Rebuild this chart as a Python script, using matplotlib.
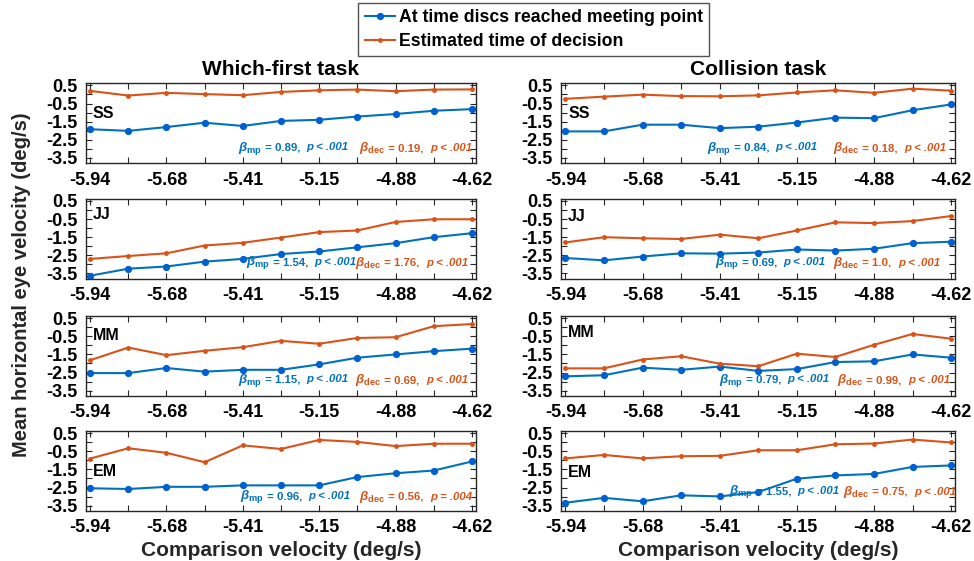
import matplotlib.pyplot as plt
from matplotlib.offsetbox import TextArea, HPacker, AnnotationBbox

plt.rcParams['font.family'] = ['Liberation Sans', 'DejaVu Sans']
plt.rcParams['font.weight'] = 'bold'
plt.rcParams['mathtext.fontset'] = 'custom'
plt.rcParams['mathtext.it'] = 'Liberation Sans:italic'
plt.rcParams['mathtext.bf'] = 'Liberation Sans:bold'
plt.rcParams['mathtext.rm'] = 'Liberation Sans:bold'

# comparison velocities (deg/s)
comp_vel = [-5.94, -5.808, -5.676, -5.544, -5.412, -5.28, -5.148, -5.016, -4.884, -4.752, -4.62]
xtick_labels = ['-5.94', '', '-5.68', '', '-5.41', '', '-5.15', '', '-4.88', '', '-4.62']
observers = ['SS', 'JJ', 'MM', 'EM']

# Which-first task: eye velocity at meeting point (mp) and at decision (dec)
wf_ss_mp = [-1.92, -2.01, -1.80, -1.56, -1.74, -1.46, -1.40, -1.22, -1.08, -0.90, -0.81]
wf_ss_dec = [0.20, -0.06, 0.09, 0.02, -0.04, 0.14, 0.23, 0.27, 0.18, 0.27, 0.28]
wf_jj_mp = [-3.63, -3.24, -3.12, -2.85, -2.70, -2.43, -2.29, -2.06, -1.83, -1.50, -1.28]
wf_jj_dec = [-2.70, -2.54, -2.39, -1.96, -1.81, -1.52, -1.22, -1.13, -0.66, -0.51, -0.51]
wf_mm_mp = [-2.53, -2.53, -2.25, -2.45, -2.35, -2.35, -2.05, -1.68, -1.50, -1.32, -1.18]
wf_mm_dec = [-1.82, -1.12, -1.54, -1.30, -1.10, -0.75, -0.91, -0.59, -0.55, 0.06, 0.18]
wf_em_mp = [-2.54, -2.58, -2.46, -2.46, -2.38, -2.38, -2.38, -1.92, -1.71, -1.56, -1.06]
wf_em_dec = [-0.90, -0.33, -0.58, -1.10, -0.17, -0.37, 0.13, 0.02, -0.21, -0.08, -0.08]

# Collision task
col_ss_mp = [-2.04, -2.04, -1.67, -1.67, -1.86, -1.78, -1.55, -1.28, -1.31, -0.87, -0.55]
col_ss_dec = [-0.24, -0.12, -0.01, -0.09, -0.10, -0.05, 0.11, 0.23, 0.09, 0.32, 0.21]
col_jj_mp = [-2.65, -2.78, -2.57, -2.39, -2.41, -2.35, -2.18, -2.24, -2.14, -1.83, -1.75]
col_jj_dec = [-1.79, -1.50, -1.56, -1.60, -1.36, -1.56, -1.13, -0.68, -0.72, -0.61, -0.33]
col_mm_mp = [-2.71, -2.65, -2.23, -2.35, -2.17, -2.41, -2.31, -1.92, -1.88, -1.50, -1.68]
col_mm_dec = [-2.27, -2.27, -1.78, -1.60, -2.01, -2.15, -1.46, -1.64, -0.97, -0.37, -0.63]
col_em_mp = [-3.34, -3.07, -3.26, -2.93, -2.99, -2.75, -2.01, -1.83, -1.75, -1.36, -1.28]
col_em_dec = [-0.89, -0.70, -0.89, -0.77, -0.75, -0.44, -0.44, -0.11, -0.07, 0.15, -0.01]

# regression slopes and p values
wf_beta_mp = ['0.89', '1.54', '1.15', '0.96']
wf_p_mp = ['< .001', '< .001', '< .001', '< .001']
wf_beta_dec = ['0.19', '1.76', '0.69', '0.56']
wf_p_dec = ['< .001', '< .001', '< .001', '= .004']
col_beta_mp = ['0.84', '0.69', '0.79', '1.55']
col_p_mp = ['< .001', '< .001', '< .001', '< .001']
col_beta_dec = ['0.18', '1.0', '0.99', '0.75']
col_p_dec = ['< .001', '< .001', '< .001', '< .001']

blue = '#0072BD'
orange = '#D95319'

panels = [
    [(wf_ss_mp, wf_ss_dec), (wf_jj_mp, wf_jj_dec), (wf_mm_mp, wf_mm_dec), (wf_em_mp, wf_em_dec)],
    [(col_ss_mp, col_ss_dec), (col_jj_mp, col_jj_dec), (col_mm_mp, col_mm_dec), (col_em_mp, col_em_dec)],
]
stats = [(wf_beta_mp, wf_p_mp, wf_beta_dec, wf_p_dec), (col_beta_mp, col_p_mp, col_beta_dec, col_p_dec)]
titles = ['Which-first task', 'Collision task']

# layout (figure fractions)
col_left = [0.088, 0.576]
col_width = [0.401, 0.405]
row_bottom = [0.709, 0.503, 0.294, 0.089]
ax_h = 0.1426
name_y = [[0.625, 0.80, 0.76, 0.50], [0.625, 0.78, 0.79, 0.48]]
stat_x = [[(0.39, 0.70), (0.41, 0.69), (0.39, 0.69), (0.395, 0.70)],
          [(0.37, 0.69), (0.39, 0.69), (0.40, 0.70), (0.425, 0.715)]]
stat_y = [[0.19, 0.20, 0.20, 0.18], [0.19, 0.20, 0.20, 0.24]]


def stat_box(sub, beta, pstr, color):
    parts = [TextArea(r'$\beta_{\mathbf{%s}}$' % sub,
                      textprops=dict(color=color, fontsize=9.5, fontweight='normal')),
             TextArea(' = %s,  ' % beta, textprops=dict(color=color, fontsize=8.2, fontweight='bold')),
             TextArea('p %s' % pstr, textprops=dict(color=color, fontsize=8.2, fontweight='bold',
                                                     style='italic'))]
    return HPacker(children=parts, align='baseline', pad=0, sep=0)


fig = plt.figure(figsize=(9.74, 5.61), dpi=100)
handles = None
for c in range(2):
    for r in range(4):
        ax = fig.add_axes([col_left[c], row_bottom[r], col_width[c], ax_h])
        mp, dec = panels[c][r]
        l1, = ax.plot(comp_vel, mp, '-o', color=blue, lw=1.5, ms=4.2, mfc='#0060d0', mec='#0060d0')
        l2, = ax.plot(comp_vel, dec, '-o', color=orange, lw=1.5, ms=2.5)
        if handles is None:
            handles = [l1, l2]
        ax.set_xlim(-5.955, -4.605)
        ax.set_ylim(-3.8, 0.62)
        ax.set_xticks(comp_vel)
        ax.set_xticklabels(xtick_labels)
        ax.set_yticks([0.5, 0, -0.5, -1, -1.5, -2, -2.5, -3, -3.5])
        ax.set_yticklabels(['0.5', '', '-0.5', '', '-1.5', '', '-2.5', '', '-3.5'])
        ax.tick_params(direction='in', top=True, right=True, length=4, width=0.8,
                       labelsize=13, pad=6, colors='#262626', labelcolor='black')
        for sp in ax.spines.values():
            sp.set_color('#262626')
            sp.set_linewidth(1.0)
        ax.text(0.018, name_y[c][r], observers[r], transform=ax.transAxes, fontsize=11.5,
                fontweight='bold', va='center', ha='left')
        bmp, pmp, bdec, pdec = stats[c]
        ab1 = AnnotationBbox(stat_box('mp', bmp[r], pmp[r], blue), (stat_x[c][r][0], stat_y[c][r]),
                             xycoords='axes fraction', box_alignment=(0, 0.5), frameon=False, pad=0)
        ab2 = AnnotationBbox(stat_box('dec', bdec[r], pdec[r], orange), (stat_x[c][r][1], stat_y[c][r]),
                             xycoords='axes fraction', box_alignment=(0, 0.5), frameon=False, pad=0)
        ax.add_artist(ab1)
        ax.add_artist(ab2)
        if r == 0:
            ax.set_title(titles[c], fontsize=15, fontweight='bold', pad=6)
        if r == 3:
            ax.set_xlabel('Comparison velocity (deg/s)', fontsize=15, fontweight='bold',
                          color='#262626', labelpad=3)

fig.text(0.022, 0.492, 'Mean horizontal eye velocity (deg/s)', rotation=90, fontsize=14.5,
         fontweight='bold', ha='center', va='center', color='#262626')

leg = fig.legend(handles, ['At time discs reached meeting point', 'Estimated time of decision'],
                 loc='upper center', bbox_to_anchor=(0.548, 0.995), fontsize=12.7, frameon=True,
                 fancybox=False, edgecolor='#262626', handlelength=1.7, handletextpad=0.25,
                 borderpad=0.35, labelspacing=0.4, borderaxespad=0)
leg.get_frame().set_linewidth(1.0)

fig.savefig('out.png', dpi=100)
